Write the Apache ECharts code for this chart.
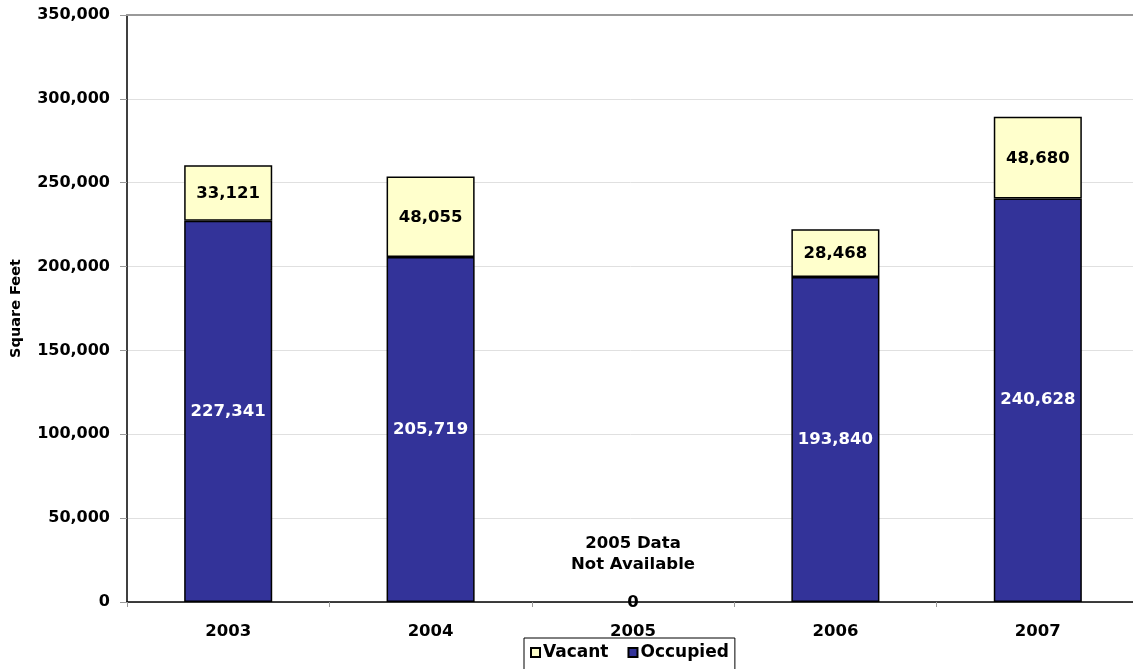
<!DOCTYPE html>
<html>
<head>
<meta charset="utf-8">
<script src="https://cdn.jsdelivr.net/npm/echarts@6/dist/echarts.min.js"></script>
<style>
  html, body { margin: 0; padding: 0; background: #fff; }
  #chart { width: 1133px; height: 669px; }
</style>
</head>
<body>
<div id="chart"></div>
<script>
// Office space by year, square feet
const years = ['2003', '2004', '2005', '2006', '2007'];
const occupied = [227341, 205719, 0, 193840, 240628];
const vacant = [33121, 48055, 0, 28468, 48680];
const yTicks = [0, 50000, 100000, 150000, 200000, 250000, 300000, 350000];
const noteYear = '2005';
const noteText = '2005 Data\nNot Available';
const noteValue = 28600;

const FONT = '"DejaVu Sans", Verdana, sans-serif';
const fmt = v => v.toLocaleString('en-US');

// zero-height bars get no outline so they don't thicken the axis
const asItems = arr => arr.map(v => v === 0 ? { value: v, itemStyle: { borderWidth: 0 } } : v);

const chart = echarts.init(document.getElementById('chart'), null, { renderer: 'canvas' });

chart.setOption({
  backgroundColor: '#ffffff',
  animation: false,
  textStyle: { fontFamily: FONT },
  grid: { left: 127, top: 15, width: 1012, height: 587, containLabel: false, outerBoundsMode: 'none' },
  legend: {
    data: ['Vacant', 'Occupied'],
    left: 524,
    top: 638,
    itemWidth: 9,
    itemHeight: 9,
    itemGap: 19,
    icon: 'rect',
    borderColor: '#000',
    borderWidth: 1,
    padding: [6, 6, 14, 6],
    textStyle: { fontFamily: FONT, fontWeight: 'bold', fontSize: 17, color: '#000', padding: [0, 0, 0, -2] }
  },
  xAxis: [{
    type: 'category',
    data: years,
    axisLine: { lineStyle: { color: '#000', width: 1.5 } },
    axisTick: { show: true, length: 5, lineStyle: { color: '#999' } },
    axisLabel: { color: '#000', fontFamily: FONT, fontWeight: 'bold', fontSize: 16.5, margin: 21 },
    splitLine: { show: false }
  }, {
    type: 'category',
    data: years,
    position: 'top',
    axisLine: { lineStyle: { color: '#999', width: 2 } },
    axisTick: { show: false },
    axisLabel: { show: false }
  }],
  yAxis: {
    type: 'value',
    min: yTicks[0],
    max: yTicks[yTicks.length - 1],
    interval: 50000,
    name: 'Square Feet',
    nameLocation: 'middle',
    nameRotate: 90,
    nameGap: 103,
    nameTextStyle: { color: '#000', fontFamily: FONT, fontWeight: 'bold', fontSize: 14.5 },
    axisLine: { show: true, lineStyle: { color: '#000', width: 1.5 } },
    axisTick: { show: true, length: 7, lineStyle: { color: '#999' } },
    axisLabel: { color: '#000', fontFamily: FONT, fontWeight: 'bold', fontSize: 16, margin: 17, formatter: fmt },
    splitLine: { show: true, lineStyle: { color: '#e0e0e0', width: 1 } }
  },
  series: [{
    name: 'Occupied',
    type: 'bar',
    stack: 'space',
    barWidth: '43.5%',
    data: asItems(occupied),
    itemStyle: { color: '#333399', borderColor: '#000', borderWidth: 1.5 },
    label: {
      show: true,
      position: 'inside',
      color: '#fff',
      fontFamily: FONT,
      fontWeight: 'bold',
      fontSize: 16.5,
      formatter: p => p.value ? fmt(p.value) : ''
    }
  }, {
    name: 'Vacant',
    type: 'bar',
    stack: 'space',
    barWidth: '43.5%',
    data: asItems(vacant),
    itemStyle: { color: '#ffffcc', borderColor: '#000', borderWidth: 1.5 },
    label: {
      show: true,
      position: 'inside',
      color: '#000',
      fontFamily: FONT,
      fontWeight: 'bold',
      fontSize: 16.5,
      offset: [0, 1],
      formatter: p => fmt(p.value)
    },
    markPoint: {
      symbol: 'rect',
      symbolSize: 0,
      data: [{ coord: [noteYear, noteValue], value: noteText }],
      label: {
        show: true,
        position: 'inside',
        color: '#000',
        fontFamily: FONT,
        fontWeight: 'bold',
        fontSize: 16.5,
        lineHeight: 21,
        align: 'center',
        formatter: noteText
      }
    }
  }]
});
</script>
</body>
</html>
